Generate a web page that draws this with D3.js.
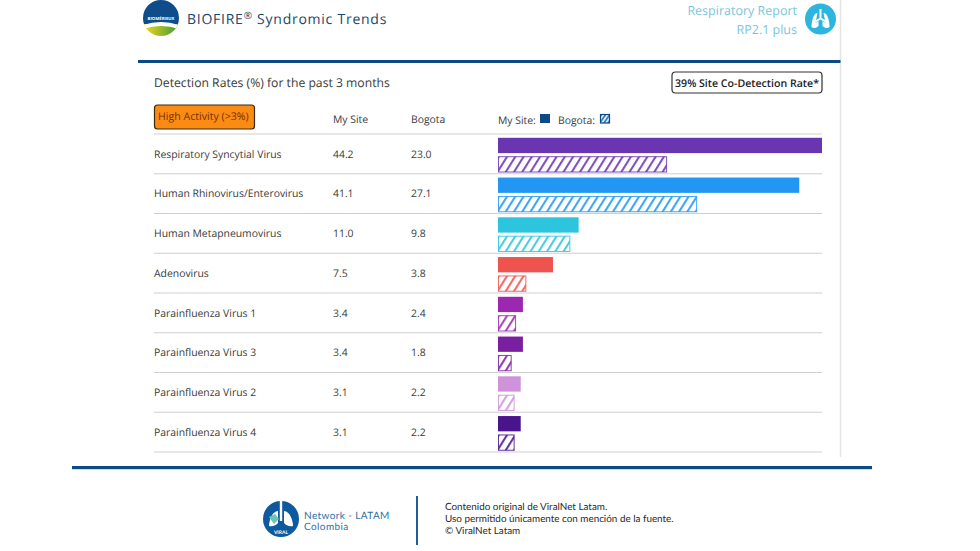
<!DOCTYPE html>
<html>
<head>
<meta charset="utf-8">
<script src="https://cdn.jsdelivr.net/npm/d3@7/dist/d3.min.js"></script>
<style>
html,body{margin:0;padding:0;background:#fff;}
svg{display:block;}
text{font-family:"Open Sans",sans-serif;text-rendering:geometricPrecision;}
text.foot{font-family:Lato,sans-serif;}
</style>
</head>
<body>
<svg id="chart" width="980" height="551"></svg>
<script>
// Detection rates by pathogen, in percent
const pathogens = ["Respiratory Syncytial Virus","Human Rhinovirus/Enterovirus","Human Metapneumovirus","Adenovirus","Parainfluenza Virus 1","Parainfluenza Virus 3","Parainfluenza Virus 2","Parainfluenza Virus 4"];
const mySite = [44.2,41.1,11.0,7.5,3.4,3.4,3.1,3.1];
const bogota = [23.0,27.1,9.8,3.8,2.4,1.8,2.2,2.2];
const barColors = ["#6a35b0","#2196f3","#2cc5dd","#ef5350","#9c27b0","#7b1fa2","#ce93d8","#4a148c"];
const seriesNames = ["My Site","Bogota"];

const svg = d3.select("#chart");
const defs = svg.append("defs");
const navy = "#0b4a85";

// One diagonal hatch per pathogen colour
barColors.forEach((c,i)=>{
  const p = defs.append("pattern").attr("id","hatch"+i).attr("patternUnits","userSpaceOnUse")
    .attr("width",7).attr("height",7).attr("patternTransform","rotate(32)");
  p.append("rect").attr("width",7).attr("height",7).attr("fill","#fff");
  p.append("rect").attr("width",2.1).attr("height",7).attr("fill",c).attr("fill-opacity",0.85);
});
const lg = defs.append("pattern").attr("id","hatchLegend").attr("patternUnits","userSpaceOnUse")
  .attr("width",3.4).attr("height",3.4).attr("patternTransform","rotate(35)");
lg.append("rect").attr("width",3.4).attr("height",3.4).attr("fill","#dfeaf5");
lg.append("rect").attr("width",1.7).attr("height",3.4).attr("fill","#3d7fc0");

const logoGrad = defs.append("linearGradient").attr("id","logoLow").attr("x1",0).attr("x2",1).attr("y1",0).attr("y2",0);
logoGrad.append("stop").attr("offset","0%").attr("stop-color","#f4d81e");
logoGrad.append("stop").attr("offset","100%").attr("stop-color","#3f9a35");

// Scales
const x = d3.scaleLinear().domain([0,44.2]).range([498,822]);
const y = d3.scaleBand().domain(pathogens).range([134,452]);
const sub = d3.scaleBand().domain(seriesNames).range([3.8,38]).paddingInner(0.19).paddingOuter(0);

const text = (g,tx,ty,s,size,fill,anchor,weight)=>g.append("text").attr("x",tx).attr("y",ty).text(s)
  .attr("font-size",size).attr("fill",fill||"#3a3a3a").attr("text-anchor",anchor||"start").attr("font-weight",weight||400);

// Frame rules
svg.append("line").attr("x1",840.5).attr("x2",840.5).attr("y1",0).attr("y2",457).attr("stroke","#e4e4e4").attr("stroke-width",1.5);
svg.append("rect").attr("x",138).attr("y",60).attr("width",702.5).attr("height",3).attr("fill",navy);
svg.append("rect").attr("x",72).attr("y",466).attr("width",800).attr("height",3.2).attr("fill",navy);

// Header: logo, title, report name
const logo = svg.append("g");
const clip = defs.append("clipPath").attr("id","logoClip");
clip.append("circle").attr("cx",161).attr("cy",18).attr("r",18);
const lc = logo.append("g").attr("clip-path","url(#logoClip)");
lc.append("rect").attr("x",143).attr("y",0).attr("width",36).attr("height",24).attr("fill","#0f4c8a");
lc.append("rect").attr("x",143).attr("y",24).attr("width",36).attr("height",13).attr("fill","url(#logoLow)");
lc.append("path").attr("d","M143 25 Q161 19 179 25 L179 29 Q161 23 143 29 Z").attr("fill","#fff");
text(logo,161,19.5,"BIOMÉRIEUX",4.3,"#fff","middle",700);

const title = text(svg,187,24,"BIOFIRE",14,"#23466b").attr("letter-spacing",0.75);
title.append("tspan").text("®").attr("font-size",10).attr("dy",-5);
title.append("tspan").text(" Syndromic Trends").attr("dy",5);

text(svg,797,15,"Respiratory Report",12.5,"#7cc6dc","end");
text(svg,797,34,"RP2.1 plus",12.5,"#7cc6dc","end");
svg.append("circle").attr("cx",820.5).attr("cy",19).attr("r",15.5).attr("fill","#2cb5de");
const lung = svg.append("g").attr("fill","#fff").attr("transform","translate(820.5,19)");
lung.append("path").attr("d","M-1 -10 h2 v9 l5 3 -1 1.5 -5 -3 -5 3 -1 -1.5 5 -3 z");
lung.append("path").attr("d","M-3 -6 C-7 -6 -9 2 -9 8 C-7 10 -4 9 -2 7 L-2 2 L-5 4 Z");
lung.append("path").attr("d","M3 -6 C7 -6 9 2 9 8 C7 10 4 9 2 7 L2 2 L5 4 Z");

// Section heading and callouts
text(svg,154,87,"Detection Rates (%) for the past 3 months",12.2,"#3a3a3a");
svg.append("rect").attr("x",672).attr("y",72).attr("width",150).attr("height",21).attr("rx",3.5)
  .attr("fill","#fff").attr("stroke","#333").attr("stroke-width",1.2);
text(svg,747,87,"39% Site Co-Detection Rate*",10.6,"#222","middle",600);

svg.append("rect").attr("x",154.5).attr("y",105).attr("width",100).attr("height",24).attr("rx",3)
  .attr("fill","#fb8c13").attr("stroke","#3a2a10").attr("stroke-width",1.2);
text(svg,158,120,"High Activity (>3%)",10.6,"#7a2e00");

// Column headers and legend
text(svg,333,123,"My Site",10.4);
text(svg,411,123,"Bogota",10.4);
text(svg,498,124,"My Site:",10.4);
svg.append("rect").attr("x",540).attr("y",114).attr("width",10).attr("height",9).attr("fill",navy);
text(svg,558,124,"Bogota:",10.4);
svg.append("rect").attr("x",600.5).attr("y",114.5).attr("width",9).attr("height",8.5)
  .attr("fill","url(#hatchLegend)").attr("stroke",navy).attr("stroke-width",1.2);

// Row rules: one above the table, then one under each row
svg.append("line").attr("x1",154).attr("x2",822).attr("y1",134).attr("y2",134).attr("stroke","#cfcfcf").attr("stroke-width",1.2);
const rows = svg.append("g").selectAll("g").data(pathogens).join("g")
  .attr("transform",d=>`translate(0,${y(d)})`);
rows.append("line").attr("x1",154).attr("x2",822).attr("y1",y.bandwidth()).attr("y2",y.bandwidth())
  .attr("stroke","#cfcfcf").attr("stroke-width",1.2);

// Table text
rows.append("text").attr("x",154).attr("y",23.5).attr("font-size",10.4).attr("fill","#3a3a3a").text(d=>d);
rows.append("text").attr("x",333).attr("y",23.5).attr("font-size",10.4).attr("fill","#3a3a3a").text((d,i)=>mySite[i].toFixed(1));
rows.append("text").attr("x",411).attr("y",23.5).attr("font-size",10.4).attr("fill","#3a3a3a").text((d,i)=>bogota[i].toFixed(1));

// Solid bars for the site, hatched outlines for the city
rows.append("rect").attr("x",x(0)).attr("y",sub("My Site")).attr("height",sub.bandwidth())
  .attr("width",(d,i)=>x(mySite[i])-x(0)).attr("fill",(d,i)=>barColors[i]);
rows.append("rect").attr("x",x(0)+0.5).attr("y",sub("Bogota")).attr("height",sub.bandwidth())
  .attr("width",(d,i)=>x(bogota[i])-x(0)-0.5).attr("fill",(d,i)=>`url(#hatch${i})`)
  .attr("stroke",(d,i)=>barColors[i]).attr("stroke-opacity",0.85).attr("stroke-width",1);

// Footer: network mark, divider, attribution
const mark = svg.append("g").attr("transform","translate(281,519)");
mark.append("circle").attr("r",18).attr("fill","#0f5a9e");
mark.append("rect").attr("x",-1.2).attr("y",-18).attr("width",2.4).attr("height",20).attr("fill","#fff");
mark.append("path").attr("d","M-3 -8 C-9 -8 -12 2 -12 7 C-8 8 -5 6 -3 4 Z").attr("fill","#fff");
mark.append("path").attr("d","M3 -8 C9 -8 12 2 12 7 C8 8 5 6 3 4 Z").attr("fill","#fff");
mark.append("path").attr("d","M-12 -2 l6 -3 4 5 -5 5 z").attr("fill","#6fc3b2");
text(mark,0,15,"VIRAL",5,"#fff","middle",700).attr("class","foot");

text(svg,304,519,"Network - LATAM",10,"#2f6fa8").attr("class","foot").attr("letter-spacing",0.4);
text(svg,304,529.5,"Colombia",10,"#2f6fa8").attr("class","foot").attr("letter-spacing",0.4);
svg.append("rect").attr("x",416).attr("y",496).attr("width",2).attr("height",49).attr("fill","#1f5d99");
[["Contenido original de ViralNet Latam.",510],["Uso permitido únicamente con mención de la fuente.",522],["© ViralNet Latam",534]]
  .forEach(([s,ty])=>text(svg,445,ty,s,9.9,"#2b2b2b").attr("class","foot"));
</script>
</body>
</html>
